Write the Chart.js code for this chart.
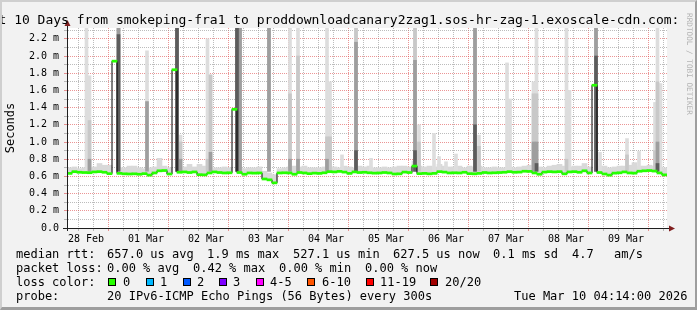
<!DOCTYPE html>
<html>
<head>
<meta charset="utf-8">
<script src="https://cdn.jsdelivr.net/npm/chart.js@4.4.1/dist/chart.umd.min.js"></script>
<style>
html,body{margin:0;padding:0;background:#f2f2f2;}
#wrap{position:relative;width:697px;height:310px;overflow:hidden;background:#f2f2f2;font-family:"DejaVu Sans Mono",monospace;color:#000;}
#frame{position:absolute;left:0;top:0;width:697px;height:310px;box-sizing:border-box;border-top:2px solid #cfcfcf;border-left:2px solid #cfcfcf;border-right:2px solid #9e9e9e;border-bottom:3px solid #9e9e9e;pointer-events:none;}
#c{position:absolute;left:0;top:0;}
.t{position:absolute;white-space:pre;font-size:12px;line-height:14px;}
#title{position:absolute;left:-25px;top:12px;white-space:pre;font-size:13px;line-height:15px;}
#wm{position:absolute;left:693px;top:13px;white-space:pre;font-size:7.7px;line-height:8px;color:#b4b4b4;transform:rotate(90deg);transform-origin:0 0;}
.sw{position:absolute;top:278px;width:8px;height:8px;box-sizing:border-box;border:1px solid #000;}
</style>
</head>
<body>
<div id="wrap">
<canvas id="c" width="697" height="310"></canvas>
<div id="title">Last 10 Days from smokeping-fra1 to proddownloadcanary2zag1.sos-hr-zag-1.exoscale-cdn.com:</div>
<div id="wm">RRDTOOL / TOBI OETIKER</div>

<div class="t" style="left:16px;top:247px">median rtt:</div>
<div class="t" style="left:107px;top:247px">657.0 us avg</div>
<div class="t" style="left:207px;top:247px">1.9 ms max</div>
<div class="t" style="left:293px;top:247px">527.1 us min</div>
<div class="t" style="left:393px;top:247px">627.5 us now</div>
<div class="t" style="left:493px;top:247px">0.1 ms sd</div>
<div class="t" style="left:572px;top:247px">4.7</div>
<div class="t" style="left:614px;top:247px">am/s</div>

<div class="t" style="left:16px;top:261px">packet loss:</div>
<div class="t" style="left:107px;top:261px">0.00 % avg</div>
<div class="t" style="left:193px;top:261px">0.42 % max</div>
<div class="t" style="left:279px;top:261px">0.00 % min</div>
<div class="t" style="left:365px;top:261px">0.00 % now</div>

<div class="t" style="left:16px;top:275px">loss color:</div>
<div class="sw" style="left:108px;background:#26ff00"></div><div class="t" style="left:123px;top:275px">0</div>
<div class="sw" style="left:146px;background:#00b8ff"></div><div class="t" style="left:160px;top:275px">1</div>
<div class="sw" style="left:183px;background:#0059ff"></div><div class="t" style="left:197px;top:275px">2</div>
<div class="sw" style="left:219px;background:#7e00ff"></div><div class="t" style="left:233px;top:275px">3</div>
<div class="sw" style="left:256px;background:#ff00ff"></div><div class="t" style="left:270px;top:275px">4-5</div>
<div class="sw" style="left:307px;background:#ff5500"></div><div class="t" style="left:322px;top:275px">6-10</div>
<div class="sw" style="left:366px;background:#ff0000"></div><div class="t" style="left:380px;top:275px">11-19</div>
<div class="sw" style="left:430px;background:#a10000"></div><div class="t" style="left:445px;top:275px">20/20</div>

<div class="t" style="left:16px;top:289px">probe:</div>
<div class="t" style="left:107px;top:289px">20 IPv6-ICMP Echo Pings (56 Bytes) every 300s</div>
<div class="t" style="left:514px;top:289px">Tue Mar 10 04:14:00 2026</div>
<div id="frame"></div>
</div>
<script>
// ---- data (time in hours since 28 Feb 00:00, values in milliseconds) ----
const HOUR_MIN = 4.4;
const HOUR_MAX = 244.4;
const BIN_HOURS = 2;
const Y_MAX = 2.3256;

const dayLabels = ['28 Feb','01 Mar','02 Mar','03 Mar','04 Mar','05 Mar','06 Mar','07 Mar','08 Mar','09 Mar'];

// median rtt per 2-hour bin
const medianRtt = [
 0.635,0.655,0.648,0.645,0.643,0.652,0.655,0.648,0.632,1.940,
 0.635,0.630,0.628,0.630,0.625,0.632,0.615,0.640,0.665,0.668,
 0.628,1.840,0.648,0.652,0.645,0.652,0.620,0.618,0.640,0.652,
 0.645,0.640,0.642,1.380,0.645,0.625,0.640,0.638,0.640,0.570,
 0.560,0.525,0.640,0.642,0.640,0.625,0.645,0.640,0.632,0.638,
 0.635,0.642,0.655,0.652,0.658,0.650,0.635,0.652,0.645,0.648,
 0.642,0.638,0.640,0.645,0.640,0.628,0.630,0.650,0.645,0.720,
 0.632,0.635,0.630,0.635,0.655,0.650,0.640,0.642,0.640,0.648,
 0.632,0.630,0.635,0.645,0.640,0.642,0.645,0.648,0.655,0.648,
 0.650,0.660,0.658,0.640,0.625,0.650,0.655,0.652,0.655,0.630,
 0.652,0.655,0.648,0.665,0.640,1.660,0.645,0.628,0.615,0.638,
 0.642,0.652,0.640,0.638,0.660,0.665,0.668,0.662,0.640,0.618
];

// upper edge of the low "smoke" band per 2-hour bin
const smokeTop = [
 0.70,0.71,0.69,0.70,0.70,0.71,0.75,0.73,0.73,null,
 0.70,0.70,0.72,0.72,0.70,0.69,0.70,0.71,0.81,0.72,
 0.70,null,0.70,0.71,0.74,0.71,0.74,0.72,0.71,0.70,
 0.70,0.71,0.70,null,0.70,0.69,0.70,0.70,0.71,0.66,
 0.64,0.62,0.69,0.70,0.71,0.72,0.71,0.72,0.70,0.70,
 0.70,0.71,0.72,0.71,0.70,0.72,0.71,0.70,0.72,0.71,
 0.72,0.70,0.70,0.71,0.70,0.71,0.72,0.72,0.71,0.78,
 0.72,0.71,0.72,0.71,0.74,0.72,0.71,0.71,0.72,0.70,
 0.72,0.71,0.72,0.70,0.70,0.71,0.70,0.70,0.71,0.70,
 0.71,0.72,0.73,0.73,0.71,0.70,0.72,0.73,0.74,0.72,
 0.71,0.72,0.72,0.75,0.71,null,0.72,0.72,0.70,0.71,
 0.72,0.72,0.73,0.76,0.72,0.72,0.73,0.72,0.71,0.70
];

// smoke spikes: time, and top of each smoke layer (outer/lightest to inner/darkest)
const spikeHours = [12.2,13.4,25.0,36.4,48.4,49.8,60.6,61.8,72.4,73.6,85.2,93.6,96.8,108.4,109.6,114.4,120.0,126.0,143.6,145.2,151.2,153.2,156.0,160.0,167.6,169.2,180.4,181.6,191.0,192.2,204.2,205.4,216.0,217.6,228.4,233.2,239.6,240.6,241.8];
const spikeL1 = [2.40,1.77,2.40,2.06,2.40,1.08,2.20,1.78,2.40,2.40,2.40,2.40,2.40,2.40,1.70,0.85,2.40,0.81,2.40,1.20,1.10,0.83,0.77,0.86,2.40,1.08,1.92,1.50,1.70,2.40,2.40,1.60,2.40,0.88,1.04,0.89,1.46,2.40,1.68];
const spikeL2 = [null,1.25,2.40,null,2.40,1.00,0.80,1.78,2.40,2.40,2.40,1.56,2.00,1.06,1.06,null,2.40,null,2.40,1.00,null,null,null,null,2.40,0.95,null,null,1.56,1.56,0.80,null,2.40,null,0.85,null,0.90,1.70,null];
const spikeL3 = [null,0.80,2.40,1.47,2.40,0.80,null,0.88,2.40,2.40,2.40,0.80,0.80,0.80,null,null,2.16,null,1.95,null,null,null,null,null,2.40,null,null,null,1.00,1.00,null,null,2.40,null,null,null,null,1.00,null];
const spikeL4 = [null,null,2.25,null,2.40,null,null,null,2.40,null,null,null,null,null,null,null,0.90,null,0.90,null,null,null,null,null,1.20,null,null,null,null,0.75,null,null,2.00,null,null,null,null,0.75,null];

// ---- styling ----
const SMOKE_BASE = 0.66;
const MED_HALF = 0.012;
const MAJOR = 'rgba(222,79,79,0.6)';
const MINOR = 'rgba(143,143,143,0.6)';
const gridHours = [];
for (let h = 6; h <= 240; h += 6) gridHours.push(h);
const binX = i => HOUR_MIN + BIN_HOURS * (i + 0.5);

const datasets = [];
datasets.push({type:'bar', label:'median', order:0, grouped:false, barThickness:5,
  backgroundColor:'#26ff00', borderWidth:0,
  data: medianRtt.map((m,i)=>({x:binX(i), y:[m-MED_HALF, m+MED_HALF]}))});
datasets.push({type:'line', label:'median line', order:1, stepped:'middle',
  borderColor:'#000', borderWidth:1, pointRadius:0, fill:false,
  data: medianRtt.map((m,i)=>({x:binX(i), y:m}))});
const layers = [[spikeL4,'#5c5c5c',2],[spikeL3,'#9e9e9e',3],[spikeL2,'#c8c8c8',4],[spikeL1,'#dddddd',5]];
layers.forEach(([arr,col,ord]) => {
  datasets.push({type:'bar', order:ord, grouped:false, barThickness:3, backgroundColor:col, borderWidth:0,
    data: spikeHours.map((h,k)=> arr[k]==null ? null : ({x:h, y:[SMOKE_BASE, arr[k]]})).filter(Boolean)});
});
datasets.push({type:'bar', order:6, grouped:false, barThickness:5, backgroundColor:'#d9d9d9', borderWidth:0,
  data: medianRtt.map((m,i)=> smokeTop[i]==null ? null : ({x:binX(i), y:[m, smokeTop[i]]})).filter(Boolean)});

const canvasBg = {
  id:'canvasBg',
  beforeDraw(chart){
    const {ctx, chartArea:a} = chart;
    ctx.save(); ctx.fillStyle = '#ffffff';
    ctx.fillRect(a.left, a.top, a.right - a.left, a.bottom - a.top);
    ctx.restore();
  }
};
const axisDeco = {
  id:'axisDeco',
  afterDraw(chart){
    const {ctx, chartArea:a} = chart;
    ctx.save();
    ctx.strokeStyle = '#1f1f1f'; ctx.lineWidth = 1;
    ctx.beginPath();
    ctx.moveTo(a.left+0.5, a.top-3); ctx.lineTo(a.left+0.5, a.bottom+3);
    ctx.moveTo(a.left-4, a.bottom+0.5); ctx.lineTo(a.right+3, a.bottom+0.5);
    ctx.stroke();
    ctx.fillStyle = '#801f1f';
    ctx.beginPath();
    ctx.moveTo(a.left+0.5, a.top-8); ctx.lineTo(a.left-2.5, a.top-2); ctx.lineTo(a.left+3.5, a.top-2); ctx.closePath(); ctx.fill();
    ctx.beginPath();
    ctx.moveTo(a.right+8, a.bottom+0.5); ctx.lineTo(a.right+2, a.bottom-2.5); ctx.lineTo(a.right+2, a.bottom+3.5); ctx.closePath(); ctx.fill();
    ctx.restore();
  }
};

Chart.defaults.font.family = '"DejaVu Sans Mono", monospace';
Chart.defaults.color = '#000';

new Chart(document.getElementById('c'), {
  type:'bar',
  data:{datasets},
  options:{
    responsive:false, animation:false, devicePixelRatio:1,
    layout:{padding:{left:0, top:28, right:30, bottom:0}},
    plugins:{legend:{display:false}, tooltip:{enabled:false}, title:{display:false}},
    scales:{
      x:{type:'linear', min:HOUR_MIN, max:HOUR_MAX, offset:false,
        afterBuildTicks: s => { s.ticks = gridHours.map(v=>({value:v})); },
        afterFit: s => { s.height = 82; },
        ticks:{autoSkip:false, maxRotation:0, minRotation:0, padding:2, font:{size:10}, color:'#000',
          callback: v => (v % 24 === 12) ? dayLabels[(v-12)/24] : ''},
        grid:{color: c => (c.tick && c.tick.value % 24 === 0) ? MAJOR : MINOR,
          tickColor: c => (c.tick && c.tick.value % 24 === 0) ? MAJOR : MINOR,
          borderDash:[1,1], tickLength:3, lineWidth:1},
        border:{display:true, color:'#1f1f1f', width:1, dash:[1,1]}
      },
      y:{min:0, max:Y_MAX,
        afterFit: s => { s.width = 67; },
        ticks:{stepSize:0.1, includeBounds:false, autoSkip:false, padding:5, font:{size:10}, color:'#000',
          callback: v => { const k = Math.round(v*10); if (k % 2) return ''; return k === 0 ? '0.0' : (k/10).toFixed(1) + ' m'; }},
        grid:{color: c => (c.tick && Math.round(c.tick.value*10) % 2 === 0) ? MAJOR : MINOR,
          tickColor: c => (c.tick && Math.round(c.tick.value*10) % 2 === 0) ? MAJOR : MINOR,
          borderDash:[1,1], tickLength:3, lineWidth:1},
        border:{display:true, color:'#1f1f1f', width:1, dash:[1,1]},
        title:{display:true, text:'Seconds', font:{size:12}, color:'#000', padding:{top:4, bottom:0}}
      }
    }
  },
  plugins:[canvasBg, axisDeco]
});
</script>
</body>
</html>
